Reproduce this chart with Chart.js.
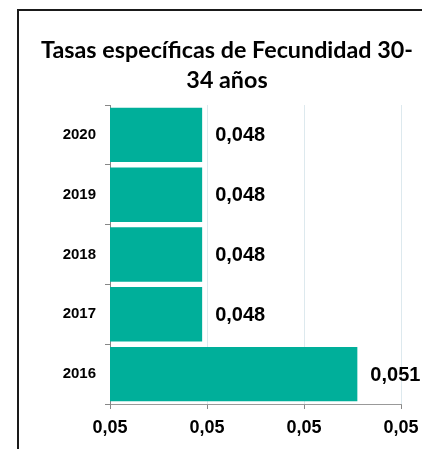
<!DOCTYPE html>
<html>
<head>
<meta charset="utf-8">
<script src="https://cdn.jsdelivr.net/npm/chart.js@4/dist/chart.umd.min.js"></script>
<style>
    html, body { margin: 0; background: #fff; overflow: hidden; }
    #rateChart { display: block; }
</style>
</head>
<body>
<canvas id="rateChart" width="422" height="449"></canvas>
<script>
const years = ['2020', '2019', '2018', '2017', '2016'];
const rates = [0.0479, 0.0479, 0.0479, 0.0479, 0.0511];
const xTicks = [0.046, 0.048, 0.050, 0.052];
const titleLines = ['Tasas específicas de Fecundidad 30-', '34 años'];

const fmtComma = (v, d) => v.toFixed(d).replace('.', ',');

// chart frame (left and top edges only are inside the picture)
const chartFrame = {
    id: 'chartFrame',
    beforeDraw(chart) {
        const ctx = chart.ctx;
        ctx.save();
        ctx.fillStyle = '#1a1a1a';
        ctx.fillRect(17, 9, 2, chart.height - 9);
        ctx.fillRect(17, 9, chart.width - 17, 2);
        ctx.restore();
    }
};

// labels drawn at the end of every bar
const barValueLabels = {
    id: 'barValueLabels',
    afterDatasetsDraw(chart) {
        const ctx = chart.ctx;
        const meta = chart.getDatasetMeta(0);
        ctx.save();
        ctx.font = 'bold 20px "Liberation Sans", Arial, sans-serif';
        ctx.fillStyle = '#000';
        ctx.textAlign = 'left';
        ctx.textBaseline = 'middle';
        meta.data.forEach((bar, i) => {
            ctx.fillText(fmtComma(rates[i], 3), bar.x + 13, bar.y + 1);
        });
        ctx.restore();
    }
};

window.rateChart = new Chart(document.getElementById('rateChart').getContext('2d'), {
    type: 'bar',
    data: {
        labels: years,
        datasets: [{
            label: 'Tasa',
            data: rates,
            backgroundColor: '#00af9a',
            borderWidth: 0,
            barPercentage: 0.91,
            categoryPercentage: 1
        }]
    },
    options: {
        indexAxis: 'y',
        responsive: false,
        animation: false,
        layout: { padding: { left: 32, right: 0, top: 0, bottom: 0 } },
        plugins: {
            legend: { display: false },
            tooltip: { enabled: false },
            title: {
                display: true,
                text: titleLines,
                color: '#000',
                font: { family: 'Lato, "Open Sans", sans-serif', size: 23.3, weight: 'bold', lineHeight: 1.2876 },
                padding: { top: 35, bottom: 10 }
            }
        },
        scales: {
            x: {
                type: 'linear',
                min: 0.046,
                max: 0.052,
                afterBuildTicks: (scale) => { scale.ticks = xTicks.map(v => ({ value: v })); },
                afterFit: (scale) => {
                    scale.height = 45;
                    scale.paddingLeft = 0;
                    scale.paddingRight = 21;
                },
                border: { display: true, color: '#999', width: 1 },
                grid: { color: '#dde9ee', tickColor: '#888', tickLength: 5, lineWidth: 1 },
                ticks: {
                    color: '#000',
                    padding: 8,
                    font: { family: '"Liberation Sans", Arial, sans-serif', size: 18, weight: 'bold' },
                    callback: (v) => fmtComma(v, 2)
                }
            },
            y: {
                afterFit: (scale) => { scale.width = 78; },
                border: { display: true, color: '#888', width: 1 },
                grid: { offset: true, drawOnChartArea: false, tickColor: '#888', tickLength: 5 },
                ticks: {
                    color: '#000',
                    padding: 9,
                    font: { family: '"Liberation Sans", Arial, sans-serif', size: 15, weight: 'bold' }
                }
            }
        }
    },
    plugins: [chartFrame, barValueLabels]
});
</script>
</body>
</html>
